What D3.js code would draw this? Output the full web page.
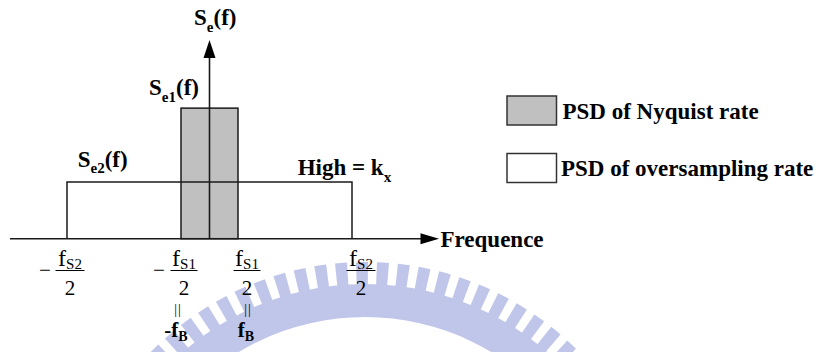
<!DOCTYPE html>
<html>
<head>
<meta charset="utf-8">
<script src="https://cdn.jsdelivr.net/npm/d3@7"></script>
<style>
  html, body { margin: 0; padding: 0; background: #fff; }
  svg { display: block; }
</style>
</head>
<body>
<div id="viz"></div>
<script>
const width = 827;
const height = 352;

// ---- data ----
const xDomain = [-7, 8];          // frequency, in units of fs1/2
const yDomain = [0, 3.5];         // PSD level, in units of k_x
const freqTicks = [-5, -1, 1, 5];
const tickSubs = ["S2", "S1", "S1", "S2"];
const nyquistBand = [-1, 1];
const nyquistLevel = 2.3;
const overBand = [-5, 5];
const overLevel = 1;
const bwTicks = [-1, 1];
const bwNames = ["-f", "f"];
const legendNames = ["PSD of Nyquist rate", "PSD of oversampling rate"];
const legendFills = ["#c0c0c0", "#ffffff"];

const serif = "'Liberation Serif'";

const svg = d3.select("#viz").append("svg")
    .attr("width", width)
    .attr("height", height)
    .attr("font-family", serif);

const xScale = d3.scaleLinear().domain(xDomain).range([10, 437.5]);
const yScale = d3.scaleLinear().domain(yDomain).range([238.7, 40]);

const ink = "#1a1a1a";

// faint watermark seal behind the labels
const wm = svg.append("g")
    .attr("transform", "translate(365,562)")
    .style("opacity", 0.55);
wm.append("path")
    .attr("d", d3.arc()({innerRadius: 245, outerRadius: 278, startAngle: -0.9, endAngle: 0.9}))
    .attr("fill", "#8e98d8");
d3.range(-0.78, 0.8, 0.07).forEach(function(a) {
    wm.append("path")
        .attr("d", d3.arc()({innerRadius: 270, outerRadius: 300, startAngle: a - 0.02, endAngle: a + 0.02, cornerRadius: 3}))
        .attr("fill", "#8e98d8");
});

// helper for text with subscripts: parts = [[string, isSub], ...]
function subText(g, x, y, parts, size, subSize, shift, bold, anchor) {
    const t = g.append("text")
        .attr("x", x)
        .attr("y", y)
        .attr("font-family", serif)
        .attr("font-weight", bold ? "bold" : "normal")
        .attr("text-anchor", anchor || "start")
        .attr("fill", "#000")
        .attr("font-size", size);
    let down = false;
    parts.forEach(function(p) {
        const s = t.append("tspan").text(p[0]);
        if (p[1] && !down) { s.attr("dy", shift).attr("font-size", subSize); down = true; }
        else if (p[1]) { s.attr("font-size", subSize); }
        else if (!p[1] && down) { s.attr("dy", -shift); down = false; }
    });
    return t;
}

// Nyquist band (grey)
svg.append("rect")
    .attr("x", xScale(nyquistBand[0]))
    .attr("y", yScale(nyquistLevel))
    .attr("width", xScale(nyquistBand[1]) - xScale(nyquistBand[0]))
    .attr("height", yScale(0) - yScale(nyquistLevel))
    .attr("fill", "#c0c0c0")
    .attr("stroke", ink)
    .attr("stroke-width", 1.5);

// oversampling band (outline only)
svg.append("path")
    .attr("d", d3.line()([
        [xScale(overBand[0]), yScale(0)],
        [xScale(overBand[0]), yScale(overLevel)],
        [xScale(overBand[1]), yScale(overLevel)],
        [xScale(overBand[1]), yScale(0)]
    ]))
    .attr("fill", "none")
    .attr("stroke", ink)
    .attr("stroke-width", 1.5);

// axes with arrowheads
const x0 = xScale(0), y0 = yScale(0);
const xEnd = xScale(xDomain[1]), yEnd = yScale(yDomain[1]);
svg.append("line")
    .attr("x1", xScale(xDomain[0])).attr("y1", y0)
    .attr("x2", xEnd - 16).attr("y2", y0)
    .attr("stroke", ink).attr("stroke-width", 1.6);
svg.append("path")
    .attr("d", "M" + (xEnd + 1.5) + "," + y0 + "L" + (xEnd - 17) + "," + (y0 - 5.5) + "L" + (xEnd - 17) + "," + (y0 + 5.5) + "Z")
    .attr("fill", "#000");
svg.append("line")
    .attr("x1", x0).attr("y1", y0)
    .attr("x2", x0).attr("y2", yEnd + 17)
    .attr("stroke", ink).attr("stroke-width", 1.6);
svg.append("path")
    .attr("d", "M" + x0 + "," + yEnd + "L" + (x0 - 6) + "," + (yEnd + 18) + "L" + (x0 + 6) + "," + (yEnd + 18) + "Z")
    .attr("fill", "#000");

subText(svg, xEnd + 3, y0 + 8, [["Frequence", 0]], 23, 15, 0, true);

// curve labels
subText(svg, 194, 25, [["S", 0], ["e", 1], ["(f)", 0]], 23, 15, 6.5, true);
subText(svg, 149, 95, [["S", 0], ["e1", 1], ["(f)", 0]], 23, 15, 6.5, true);
subText(svg, 77.7, 166.7, [["S", 0], ["e2", 1], ["(f)", 0]], 23, 15, 6.5, true);
subText(svg, 297.7, 175, [["High = k", 0], ["x", 1]], 23, 15, 6.5, true);

// tick labels as fractions
const ticks = svg.selectAll(".tick")
    .data(freqTicks)
    .enter()
    .append("g")
    .attr("class", "tick")
    .attr("transform", function(d) { return "translate(" + (xScale(d) + (d < 0 ? 3 : 9)) + ",0)"; });

ticks.each(function(d, i) {
    const g = d3.select(this);
    const half = tickSubs[i] === "S2" ? 14.5 : 13.5;
    g.append("line")
        .attr("x1", -half).attr("x2", half)
        .attr("y1", 270.5).attr("y2", 270.5)
        .attr("stroke", "#000").attr("stroke-width", 1);
    subText(g, 0, 266, [["f", 0], [tickSubs[i], 1]], 24, 15, 3, false, "middle");
    subText(g, 0, 295, [["2", 0]], 21, 15, 0, false, "middle");
    if (d < 0) {
        subText(g, -25, 276.5, [["\u2212", 0]], 21, 15, 0, false, "middle");
    }
});

// band edges equal to +/- f_B
bwTicks.forEach(function(t, i) {
    const cx = xScale(t) + (t < 0 ? 3 : 9);
    subText(svg, cx + (t < 0 ? -6 : 1), 314, [["||", 0]], 14, 14, 0, false, "middle")
        .attr("letter-spacing", 1);
    subText(svg, cx + (t < 0 ? -8 : -1), 337, [[bwNames[i], 0], ["B", 1]], 21, 14, 4, true, "middle");
});

// legend
const legend = svg.selectAll(".legend")
    .data(legendNames)
    .enter()
    .append("g")
    .attr("class", "legend")
    .attr("transform", function(d, i) { return "translate(507," + (96 + i * 57.5) + ")"; });

legend.append("rect")
    .attr("width", 49.5)
    .attr("height", 29)
    .attr("fill", function(d, i) { return legendFills[i]; })
    .attr("stroke", "#333")
    .attr("stroke-width", 1.5);

legend.append("text")
    .attr("font-family", serif)
    .attr("font-weight", "bold")
    .attr("x", function(d, i) { return i === 0 ? 55.5 : 54; })
    .attr("y", 22.5)
    .attr("font-size", 23)
    .text(function(d) { return d; });
</script>
</body>
</html>
